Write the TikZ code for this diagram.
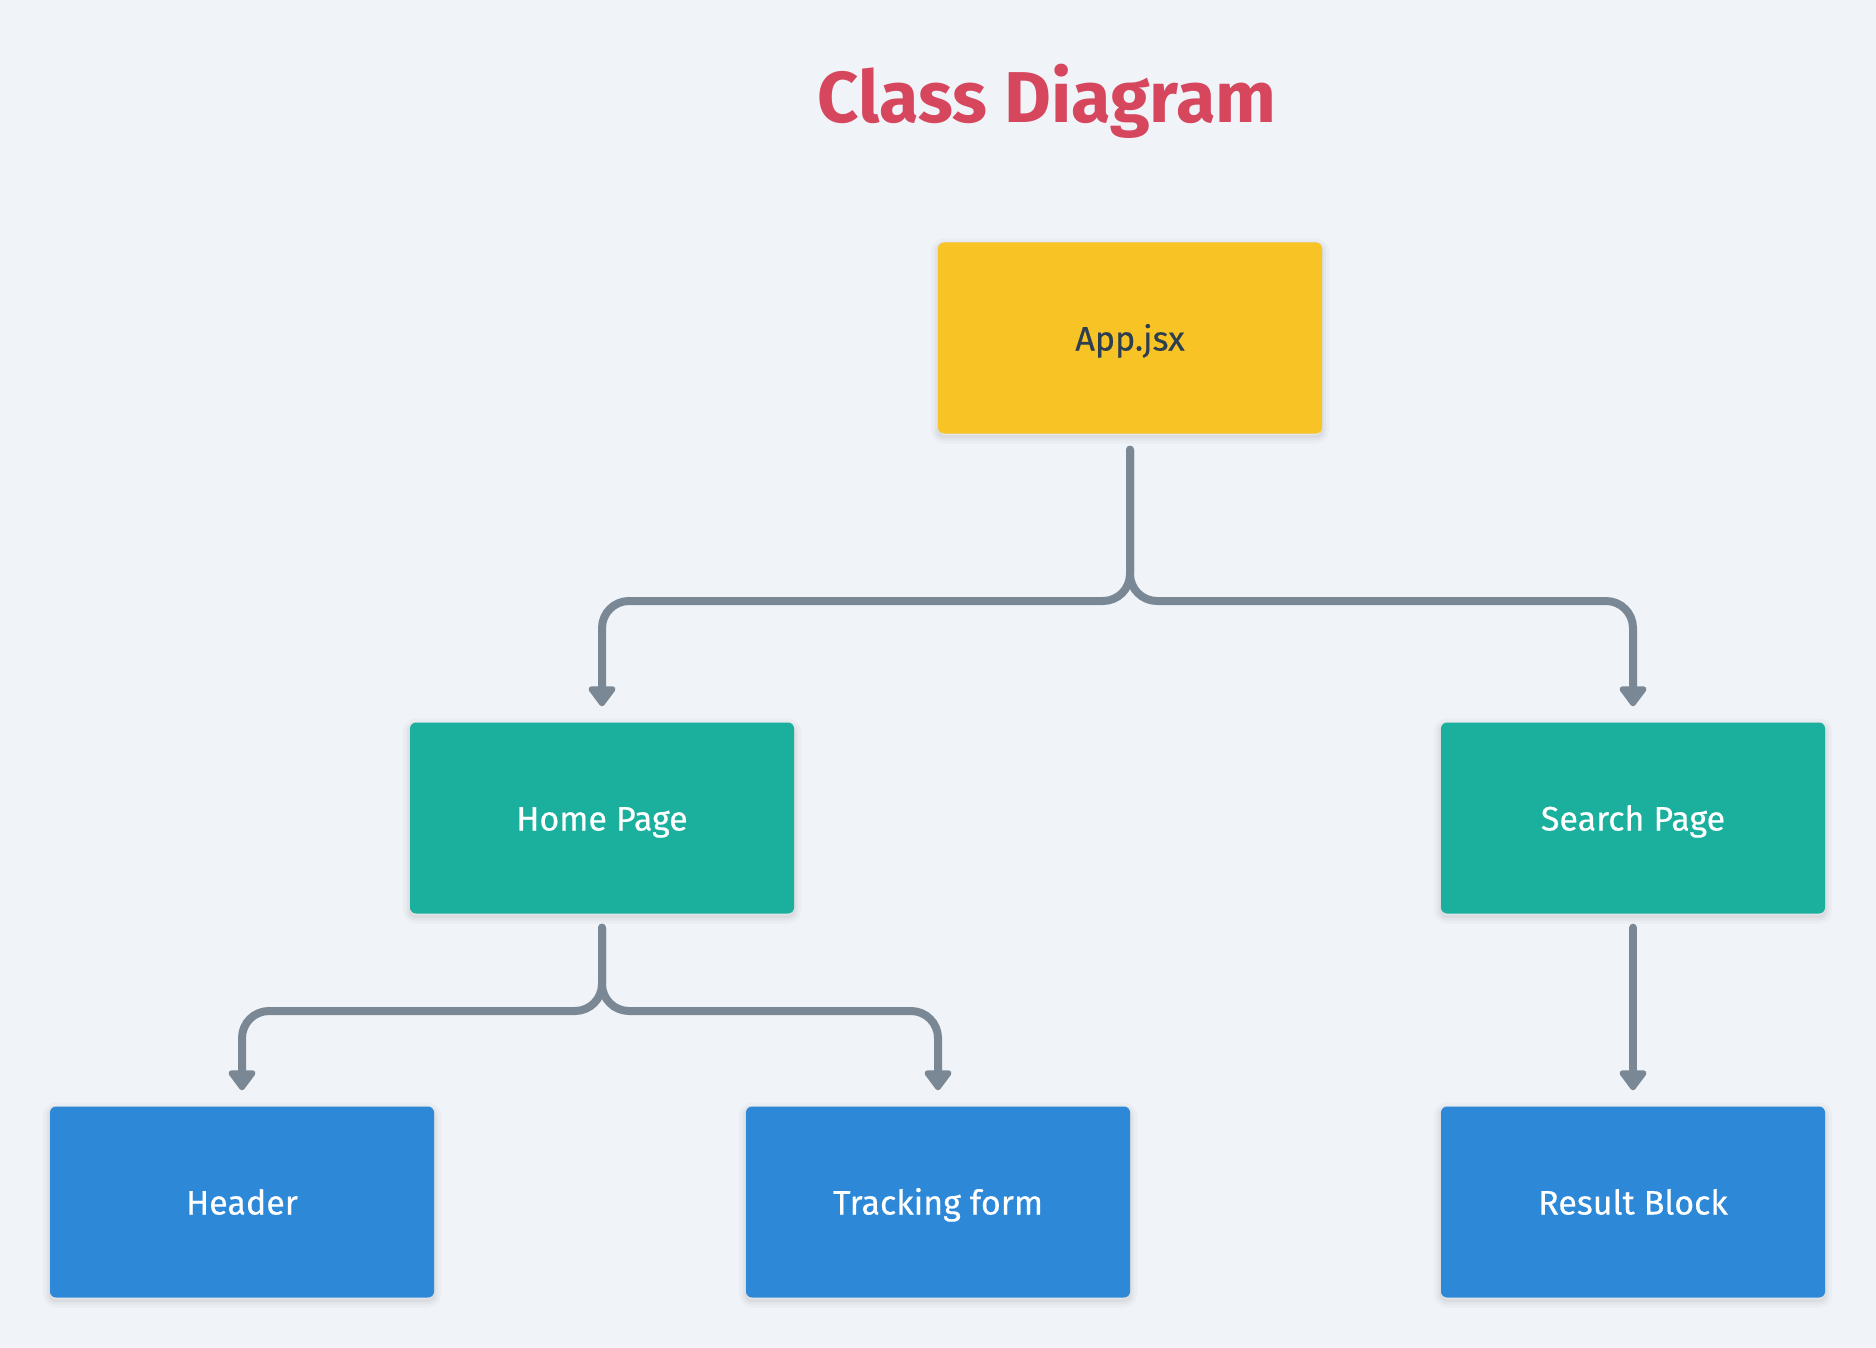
\documentclass[tikz,border=0pt]{standalone}
\usepackage{fontspec}
\setmainfont{Fira Sans}
\newfontfamily\labelfont[FakeBold=0.4]{Fira Sans}
\usetikzlibrary{arrows.meta}
\definecolor{bgc}{HTML}{F0F3F7}
\definecolor{titlec}{HTML}{D6475E}
\definecolor{appc}{HTML}{F7C325}
\definecolor{pagec}{HTML}{1BAF9E}
\definecolor{partc}{HTML}{2D89D8}
\definecolor{linec}{HTML}{7A8896}
\definecolor{darktext}{HTML}{2C3E50}
\tikzset{
  softshadow/.style={
    preaction={draw=black, draw opacity=0.025, line width=14pt, transform canvas={yshift=-3pt}},
    preaction={draw=black, draw opacity=0.03, line width=8pt, transform canvas={yshift=-3pt}},
    preaction={draw=black, draw opacity=0.035, line width=3pt, transform canvas={yshift=-3pt}}},
  box/.style={rounded corners=6pt, minimum width=384pt, minimum height=191pt,
    inner sep=0pt, text height=25pt, text depth=0pt,
    font=\labelfont\fontsize{34}{40}\selectfont, softshadow},
  appbox/.style={box, fill=appc, text=darktext},
  pagebox/.style={box, fill=pagec, text=white},
  partbox/.style={box, fill=partc, text=white},
  link/.style={draw=linec, line width=8pt, line cap=round, rounded corners=27pt,
    -{Triangle[width=31pt,length=22pt,round]}}
}
\begin{document}
\begin{tikzpicture}[x=1pt,y=-1pt]
  \fill[bgc] (0,0) rectangle (1876,1348);
  \useasboundingbox (0,0) rectangle (1876,1348);

  \node[font=\fontsize{72}{80}\selectfont\bfseries, text=titlec] (title) at (1047,101) {Class Diagram};

  \node[appbox]  (app)    at (1130,338)  {App.jsx};
  \node[pagebox] (home)   at (602,818)   {Home Page};
  \node[pagebox] (search) at (1633,818)  {Search Page};
  \node[partbox] (header) at (242,1202)  {Header};
  \node[partbox] (track)  at (938,1202)  {Tracking form};
  \node[partbox] (result) at (1633,1202) {Result Block};

  % App.jsx branches to both pages
  \coordinate (appout) at ([yshift=-16pt]app.south);
  \coordinate (homein) at ([yshift=16pt]home.north);
  \coordinate (searchin) at ([yshift=16pt]search.north);
  \draw[link] (appout) -- (appout |- 0,601) -| (homein);
  \draw[link] (appout) -- (appout |- 0,601) -| (searchin);

  % Home Page branches to its parts
  \coordinate (homeout) at ([yshift=-14pt]home.south);
  \coordinate (headerin) at ([yshift=16pt]header.north);
  \coordinate (trackin) at ([yshift=16pt]track.north);
  \draw[link] (homeout) -- (homeout |- 0,1011) -| (headerin);
  \draw[link] (homeout) -- (homeout |- 0,1011) -| (trackin);

  % Search Page to Result Block
  \coordinate (searchout) at ([yshift=-14pt]search.south);
  \coordinate (resultin) at ([yshift=16pt]result.north);
  \draw[link] (searchout) -- (resultin);
\end{tikzpicture}
\end{document}
